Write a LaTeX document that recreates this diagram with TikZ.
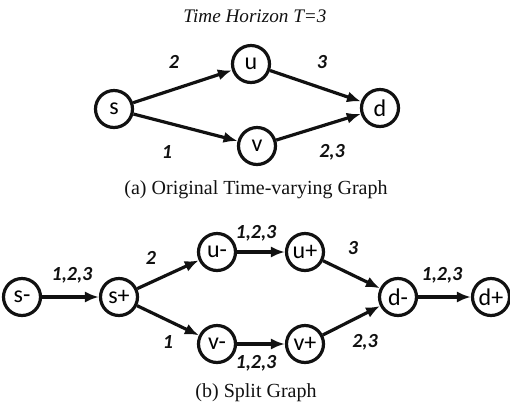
\documentclass[tikz,border=0pt]{standalone}
\usepackage{fontspec}
\setmainfont{Liberation Serif}
\newfontfamily\graphfont{Carlito}
\usetikzlibrary{arrows.meta}
\definecolor{graphblack}{HTML}{111111}

\begin{document}
\begin{tikzpicture}[x=0.5pt,y=-0.5pt,
  vertex/.style={circle,draw=graphblack,line width=1.6pt,minimum size=18.5pt,inner sep=0pt,font=\graphfont\fontsize{12}{13}\selectfont},
  edge/.style={draw=graphblack,line width=1.6pt,-{Latex[length=7pt,width=5.6pt]}},
  slot/.style={text=graphblack,font=\graphfont\bfseries\itshape\fontsize{10}{11}\selectfont,inner sep=0pt},
  caption/.style={text=graphblack,font=\fontsize{10}{12}\selectfont,inner sep=0pt}]
\useasboundingbox (0,0) rectangle (510,409);
% original time-varying graph
\node[caption,font=\itshape\fontsize{9.6}{12}\selectfont] (horizon) at (255,16) {Time Horizon T=3};
\node[vertex] (s) at (114,109) {s};
\node[vertex] (u) at (251,64) {u};
\node[vertex] (v) at (257,146) {v};
\node[vertex] (d) at (380,108) {d};
\draw[edge] (s) -- (u);
\draw[edge] (s) -- (v);
\draw[edge] (u) -- (d);
\draw[edge] (v) -- (d);
\node[slot] (su) at (174,62) {2};
\node[slot] (sv) at (167,152) {1};
\node[slot] (ud) at (322,62) {3};
\node[slot] (vd) at (332,152) {2,3};
\node[caption] (capa) at (256,190) {(a) Original Time-varying Graph};
% split graph
\node[vertex] (sm) at (22,297) {s-};
\node[vertex] (sp) at (119,297) {s+};
\node[vertex] (um) at (217,252) {u-};
\node[vertex] (up) at (305,252) {u+};
\node[vertex] (vm) at (217,344) {v-};
\node[vertex] (vp) at (305,344) {v+};
\node[vertex] (dm) at (398,297) {d-};
\node[vertex] (dp) at (491,297) {d+};
\draw[edge] (sm) -- (sp);
\draw[edge] (sp) -- (um);
\draw[edge] (sp) -- (vm);
\draw[edge] (um) -- (up);
\draw[edge] (vm) -- (vp);
\draw[edge] (up) -- (dm);
\draw[edge] (vp) -- (dm);
\draw[edge] (dm) -- (dp);
\node[slot] (smsp) at (72,275) {1,2,3};
\node[slot] (spum) at (151,258) {2};
\node[slot] (spvm) at (168,342) {1};
\node[slot] (umup) at (256,233) {1,2,3};
\node[slot] (vmvp) at (256,363) {1,2,3};
\node[slot] (updm) at (353,248) {3};
\node[slot] (vpdm) at (365,342) {2,3};
\node[slot] (dmdp) at (442,275) {1,2,3};
\node[caption] (capb) at (256,393) {(b) Split Graph};
\end{tikzpicture}
\end{document}
